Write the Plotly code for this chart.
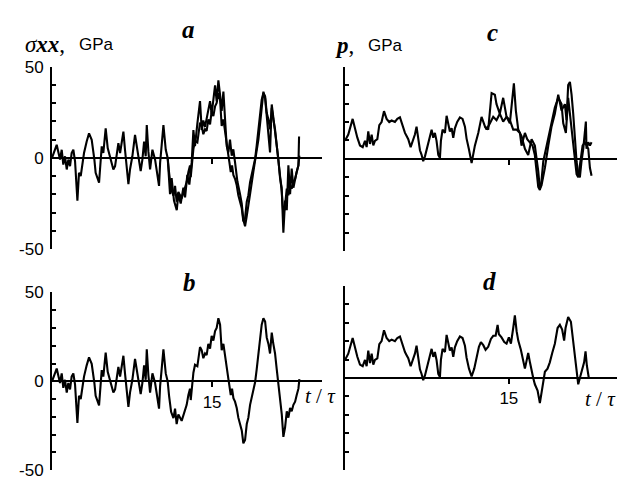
import plotly.graph_objects as go

# ---------------- data ----------------
# panel b (also the first curve of panel a): sigma_xx, GPa vs t/tau
t_b = [0.0, 0.44, 0.75, 0.91, 1.06, 1.22, 1.38, 1.53, 1.69, 1.84,
       2.0, 2.16, 2.38, 2.53, 2.69, 2.84, 3.0, 3.25, 3.47, 3.72,
       3.88, 3.97, 4.09, 4.28, 4.41, 4.5, 4.66, 4.81, 5.03, 5.22,
       5.38, 5.59, 5.75, 5.91, 6.06, 6.22, 6.38, 6.69, 6.84, 6.94,
       7.16, 7.31, 7.53, 7.78, 7.94, 8.09, 8.31, 8.47, 8.63, 8.78,
       8.88, 9.03, 9.19, 9.41, 9.66, 10.03, 10.13, 10.28, 10.44, 10.66,
       10.84, 10.97, 11.16, 11.38, 11.53,
       11.68, 11.84, 12.15, 12.46, 12.62, 12.78, 12.93, 13.0, 13.15, 13.25,
       13.4, 13.62, 13.87, 14.03, 14.18, 14.34, 14.49, 14.65, 14.81, 14.96,
       15.12, 15.28, 15.43, 15.59, 15.75, 15.81, 15.9, 16.06, 16.21, 16.37,
       16.53, 16.62, 16.75, 16.87, 17.0, 17.15, 17.31, 17.46, 17.62, 17.78,
       17.93, 18.09, 18.25, 18.4, 18.56, 18.71, 18.87, 19.03, 19.18, 19.34,
       19.49, 19.65, 19.81, 19.97, 20.12, 20.28, 20.43, 20.59, 20.74, 20.9,
       21.06, 21.21, 21.37, 21.53, 21.68, 21.84, 22.0, 22.15, 22.31, 22.46,
       22.62, 22.78, 22.93, 23.09, 23.18]
sigma_b = [0, 7.2, -0.9, 4.5, -3.6, 0.9, -6.3, -0.9, -4.5, 2.7,
           4.5, -1.8, -23.4, -8.1, -9.9, -2.7, 2.7, 9.0, 13.5, 9.9,
           4.5, -0.9, -8.1, -11.7, -13.5, -6.3, 6.3, 2.7, 16.2, 5.4,
           1.8, -1.8, -6.3, -4.5, 2.7, 8.1, 2.7, 14.4, 4.5, -0.9,
           -14.4, -6.3, 0.9, 12.6, 7.2, 1.8, -7.2, -0.9, 9.0, 0.9,
           18.0, 3.6, -6.3, 4.5, -0.9, -15.3, -2.7, 7.2, 18.0, 4.5,
           0, -8.1, -17.1, -20.7, -15.3,
           -24.0, -18.6, -22.2, -16.8, -13.2, -7.7, -4.1, -10.5, -0.5, 4.9,
           9.4, 8.5, 19.3, 17.5, 13.0, 15.7, 14.8, 21.1, 18.4, 25.6,
           22.9, 28.3, 30.1, 35.5, 31.9, 26.5, 17.5, 21.1, 13.9, 8.5,
           1.3, -2.3, -7.7, -4.1, -9.5, -11.4, -15.0, -20.4, -24.0, -27.6,
           -34.8, -33.0, -24.0, -20.4, -13.2, -9.5, -4.1, -0.5, 6.7, 15.7,
           24.7, 31.9, 35.5, 33.7, 24.7, 21.1, 15.7, 27.4, 21.1, 15.7,
           6.7, -0.5, -9.5, -18.6, -31.2, -25.8, -16.8, -20.4, -15.0, -16.8,
           -13.2, -11.4, -7.7, -4.1, 1.3]

# panel a, second curve (diverges from the first after t/tau ~ 11)
t_a2 = [10.84, 11.06, 11.21, 11.43, 11.69, 11.84, 12.06, 12.31, 12.47, 12.68,
        12.87, 13.09, 13.25, 13.4, 13.62, 13.87, 14.03, 14.18, 14.34, 14.56,
        14.81, 14.96, 15.12, 15.28, 15.43, 15.59, 15.75, 15.9, 16.06, 16.21,
        16.37, 16.53, 16.68, 16.84, 16.99, 17.15, 17.37, 17.62, 17.78, 17.93,
        18.09, 18.24, 18.4, 18.56, 18.87, 19.18, 19.34, 19.5, 19.65, 19.81,
        19.97, 20.12, 20.28, 20.43, 20.59, 20.75, 20.9, 21.06, 21.21, 21.37,
        21.52, 21.68, 21.84, 22.0, 22.15, 22.31, 22.46, 22.62, 22.78, 22.93,
        23.09, 23.15]
sigma_a2 = [0, -19.8, -11.0, -23.3, -28.6, -19.8, -25.0, -16.3, -21.6, -9.3,
            -14.6, -2.3, 15.3, 6.5, 18.8, 31.1, 15.3, 20.5, 17.0, 24.0,
            31.1, 24.0, 32.8, 39.8, 31.1, 42.5, 34.6, 25.8, 36.3, 24.0,
            6.5, 3.0, 10.0, 1.2, 4.7, -2.3, -12.8, -19.8, -25.0, -33.9,
            -37.4, -32.1, -26.8, -19.8, -7.5, 3.0, 10.0, 18.8, 29.3, 36.3,
            32.8, 24.0, 15.3, 3.0, 29.3, 22.3, 15.3, 6.5, -0.5, -11.0,
            -16.3, -40.9, -23.3, -28.6, -4.0, -19.8, -5.8, -16.3, -11.0, -7.5,
            -4.0, 11.8]

# panel d (its early part is shared with panel c): p, GPa vs t/tau
t_d = [0, 0.3, 0.7, 0.91, 1.13, 1.37, 1.62, 1.83, 1.98, 2.13,
       2.29, 2.44, 2.59, 2.74, 2.96, 3.14, 3.35, 3.57, 3.81, 4.05,
       4.27, 4.57, 4.79, 5.03, 5.27, 5.49, 5.64, 5.79, 6.01, 6.19,
       6.4, 6.55, 6.71, 6.86, 7.01, 7.16, 7.32, 7.53, 7.77, 7.93,
       8.08, 8.23, 8.38, 8.54, 8.69, 8.78, 8.93, 9.15, 9.3, 9.45,
       9.6, 9.76, 9.91, 10.06, 10.27, 10.52, 10.76,
       10.98, 11.13, 11.35, 11.59, 11.83, 12.05, 12.26, 12.44, 12.66, 12.87,
       13.11, 13.36, 13.57, 13.79, 13.97, 14.09, 14.33, 14.58, 14.79, 15.0,
       15.19, 15.4, 15.55, 15.71, 15.86, 16.1, 16.32, 16.47, 16.62, 16.77,
       16.93, 17.08, 17.23, 17.38, 17.63, 17.84, 17.99, 18.14, 18.3, 18.54,
       18.75, 18.97, 19.21, 19.46, 19.67, 19.88, 20.06, 20.19, 20.43, 20.68,
       20.89, 21.04, 21.19, 21.35, 21.5, 21.65, 21.89, 22.02, 22.14, 22.32]
p_d = [9.8, 13.2, 21.7, 16.6, 11.5, 7.3, 6.4, 9.8, 6.4, 14.9,
       8.1, 13.2, 7.3, 9.8, 10.7, 18.3, 20.0, 25.9, 21.7, 20.0,
       20.8, 20.0, 21.7, 22.5, 17.5, 14.1, 12.4, 10.7, 6.4, 9.8,
       13.2, 17.5, 11.5, 4.7, 2.2, -1.2, 1.4, 6.4, 11.5, 15.8,
       11.5, 14.1, 9.8, 2.2, 0.5, 9.8, 15.8, 14.1, 23.4, 18.3,
       14.9, 16.6, 11.5, 16.6, 20.0, 22.5, 21.7,
       17.5, 11.0, 5.1, 0.8, 5.1, 11.9, 16.9, 19.5, 17.8, 15.3,
       16.9, 21.2, 22.9, 22.9, 28.8, 23.7, 22.0, 19.5, 18.6, 22.0,
       18.6, 27.1, 33.9, 25.4, 20.3, 15.3, 9.3, 5.1, 9.3, 13.6,
       8.5, 3.4, 0.0, -3.4, -6.8, -13.6, -8.5, -1.7, 3.4, 5.1,
       8.5, 13.6, 18.6, 27.1, 28.8, 26.3, 20.3, 27.1, 33.1, 30.5,
       20.3, 10.2, 3.4, -3.4, 0.0, 3.4, 8.5, 14.4, 6.8, 0.0]

# panel c, later parts of its two curves
t_c1 = [11.59, 11.89, 12.2, 12.5, 12.81, 13.11, 13.42, 13.72, 13.87, 14.17,
        14.48, 14.79, 15.09, 15.46, 15.64, 15.86, 16.16, 16.47, 16.77, 17.08,
        17.38, 17.69, 17.84, 17.99, 18.3, 18.61, 18.91, 19.21, 19.52, 19.82,
        20.13, 20.28, 20.43, 20.59, 20.74, 20.89, 21.04, 21.2, 21.35, 21.5,
        21.65, 21.81, 22.05, 22.11, 22.27, 22.42, 22.57]
p_c1 = [-2.2, 7.2, 14.1, 22.8, 17.6, 15.9, 35.7, 34.8, 29.7, 24.5,
        33.1, 22.8, 19.3, 40.9, 26.2, 15.9, 12.4, 5.5, 2.1, 10.7,
        7.2, -6.6, -16.2, -14.3, -4.8, 7.2, 17.6, 24.5, 34.8, 26.2,
        29.7, 21.0, 40.0, 41.7, 34.8, 24.5, 10.7, -1.4, -8.3, -10.0,
        -1.4, 5.5, 20.2, 5.5, 9.0, 7.2, 9.0]
t_c2 = [12.81, 12.96, 13.27, 13.57, 13.87, 14.17, 14.48, 14.79, 15.09, 15.4,
        15.7, 16.01, 16.16, 16.47, 16.68, 16.93, 17.17, 17.38, 17.54, 17.69,
        17.84, 17.99, 18.15, 18.39, 18.61, 18.91, 19.21, 19.52, 19.82, 19.98,
        20.22, 20.43, 20.59, 20.83, 21.04, 21.2, 21.35, 21.56, 21.75, 21.96,
        22.27, 22.42, 22.57]
p_c2 = [17.6, 15.9, 19.3, 22.8, 21.0, 24.5, 20.2, 22.8, 21.0, 15.9,
        15.9, 14.1, 7.2, 14.1, 10.7, 9.0, 7.2, 2.1, -6.6, -15.2,
        -16.9, -11.7, -1.4, 5.5, 10.7, 19.3, 27.9, 33.1, 29.7, 19.3,
        14.1, 33.1, 24.5, 14.1, 0.3, -8.3, -10.0, -1.4, 7.2, 9.0,
        5.5, -4.8, -9.1]

y_ticks = [-50, 0, 50]
y_ticktext = ["-50", "0", "50"]
y_minor = [-40, -30, -20, -10, 10, 20, 30, 40]
x_ticks = [15]
x_ticktext = ["15"]

# ---------------- layout helpers ----------------
W, H = 617, 487


def fx(p):
    return p / W


def fy(p):
    return 1 - p / H


SANS = "Liberation Sans, Arial, sans-serif"
SERIF = "Liberation Serif, Times New Roman, serif"

# c curve 1 = shared early part (from d) + its own later part
tc_first = [t for t in t_d if t < 11.5] + t_c1
pc_first = [p for t, p in zip(t_d, p_d) if t < 11.5] + p_c1

fig = go.Figure()
line = dict(color="black", width=2.1)
fig.add_trace(go.Scatter(x=t_b, y=sigma_b, mode="lines", line=line, xaxis="x", yaxis="y"))
fig.add_trace(go.Scatter(x=t_a2, y=sigma_a2, mode="lines", line=line, xaxis="x", yaxis="y"))
fig.add_trace(go.Scatter(x=t_b, y=sigma_b, mode="lines", line=line, xaxis="x2", yaxis="y2"))
fig.add_trace(go.Scatter(x=tc_first, y=pc_first, mode="lines", line=line, xaxis="x3", yaxis="y3"))
fig.add_trace(go.Scatter(x=t_c2, y=p_c2, mode="lines", line=line, xaxis="x3", yaxis="y3"))
fig.add_trace(go.Scatter(x=t_d, y=p_d, mode="lines", line=line, xaxis="x4", yaxis="y4"))

panels = {
    # name: (x px left, x px right, t range end, y px top, y px bottom, show y labels, show x labels)
    "": (52, 322, 25.3, 60, 250, True, False),
    "2": (52, 322, 25.3, 295, 480, True, True),
    "3": (345, 617, 24.9, 60, 252, False, False),
    "4": (345, 617, 24.9, 288, 480, False, True),
}

for k, (xl, xr, tend, yt, yb, ylab, xlab) in panels.items():
    yd = [fy(yb), fy(yt)]
    zero_pos = yd[0] + (0 - (-50)) / 100 * (yd[1] - yd[0])
    fig.layout["yaxis" + k] = dict(
        domain=yd, range=[-50, 50], anchor="x" + k,
        showline=True, linecolor="black", linewidth=2,
        ticks="inside", ticklen=8, tickwidth=2, tickcolor="black",
        tickvals=y_ticks, ticktext=y_ticktext,
        showticklabels=ylab, ticklabelstandoff=3,
        tickfont=dict(family=SANS, size=17, color="black"),
        minor=dict(tickvals=y_minor, ticks="inside", ticklen=4,
                   tickwidth=2, tickcolor="black", showgrid=False),
        showgrid=False, zeroline=True, zerolinecolor="black", zerolinewidth=2,
    )
    fig.layout["xaxis" + k] = dict(
        domain=[fx(xl), fx(xr)], range=[0, tend], anchor="free", position=zero_pos,
        showline=False, showgrid=False, zeroline=False,
        ticks="outside", ticklen=5, tickwidth=2, tickcolor="black",
        tickvals=x_ticks, ticktext=x_ticktext, showticklabels=xlab,
        tickfont=dict(family=SANS, size=17, color="black"),
    )

ann = []


def add(text, x, y, xa="center", font=None):
    ann.append(dict(text=text, x=fx(x), y=fy(y), xref="paper", yref="paper",
                    xanchor=xa, yanchor="middle", showarrow=False, font=font))


serif_big = dict(family=SERIF, size=25, color="black")
sans17 = dict(family=SANS, size=17, color="black")
add("<b><i>a</i></b>", 188, 21, font=serif_big)
add("<b><i>b</i></b>", 189, 285, font=serif_big)
add("<b><i>c</i></b>", 492, 24, font=serif_big)
add("<b><i>d</i></b>", 489, 284, font=serif_big)
add("<i>σ</i><b><i>xx</i></b>,", 23, 37, xa="left", font=dict(family=SERIF, size=23, color="black"))
add("GPa", 77, 37, xa="left", font=sans17)
add("<b><i>p</i></b>,", 333, 38, xa="left", font=dict(family=SERIF, size=23, color="black"))
add("GPa", 366, 38, xa="left", font=sans17)
add("<i>t</i> / <i>τ</i>", 303, 403, xa="left", font=dict(family=SERIF, size=21, color="black"))
add("<i>t</i> / <i>τ</i>", 583, 406, xa="left", font=dict(family=SERIF, size=21, color="black"))

fig.update_layout(
    width=W, height=H, margin=dict(l=0, r=0, t=0, b=0),
    paper_bgcolor="white", plot_bgcolor="white", showlegend=False,
    annotations=ann,
)

fig.write_html(
    "out.html",
    config={"displayModeBar": False},
    post_script="document.body.style.margin='0px';document.body.style.overflow='hidden';",
)
